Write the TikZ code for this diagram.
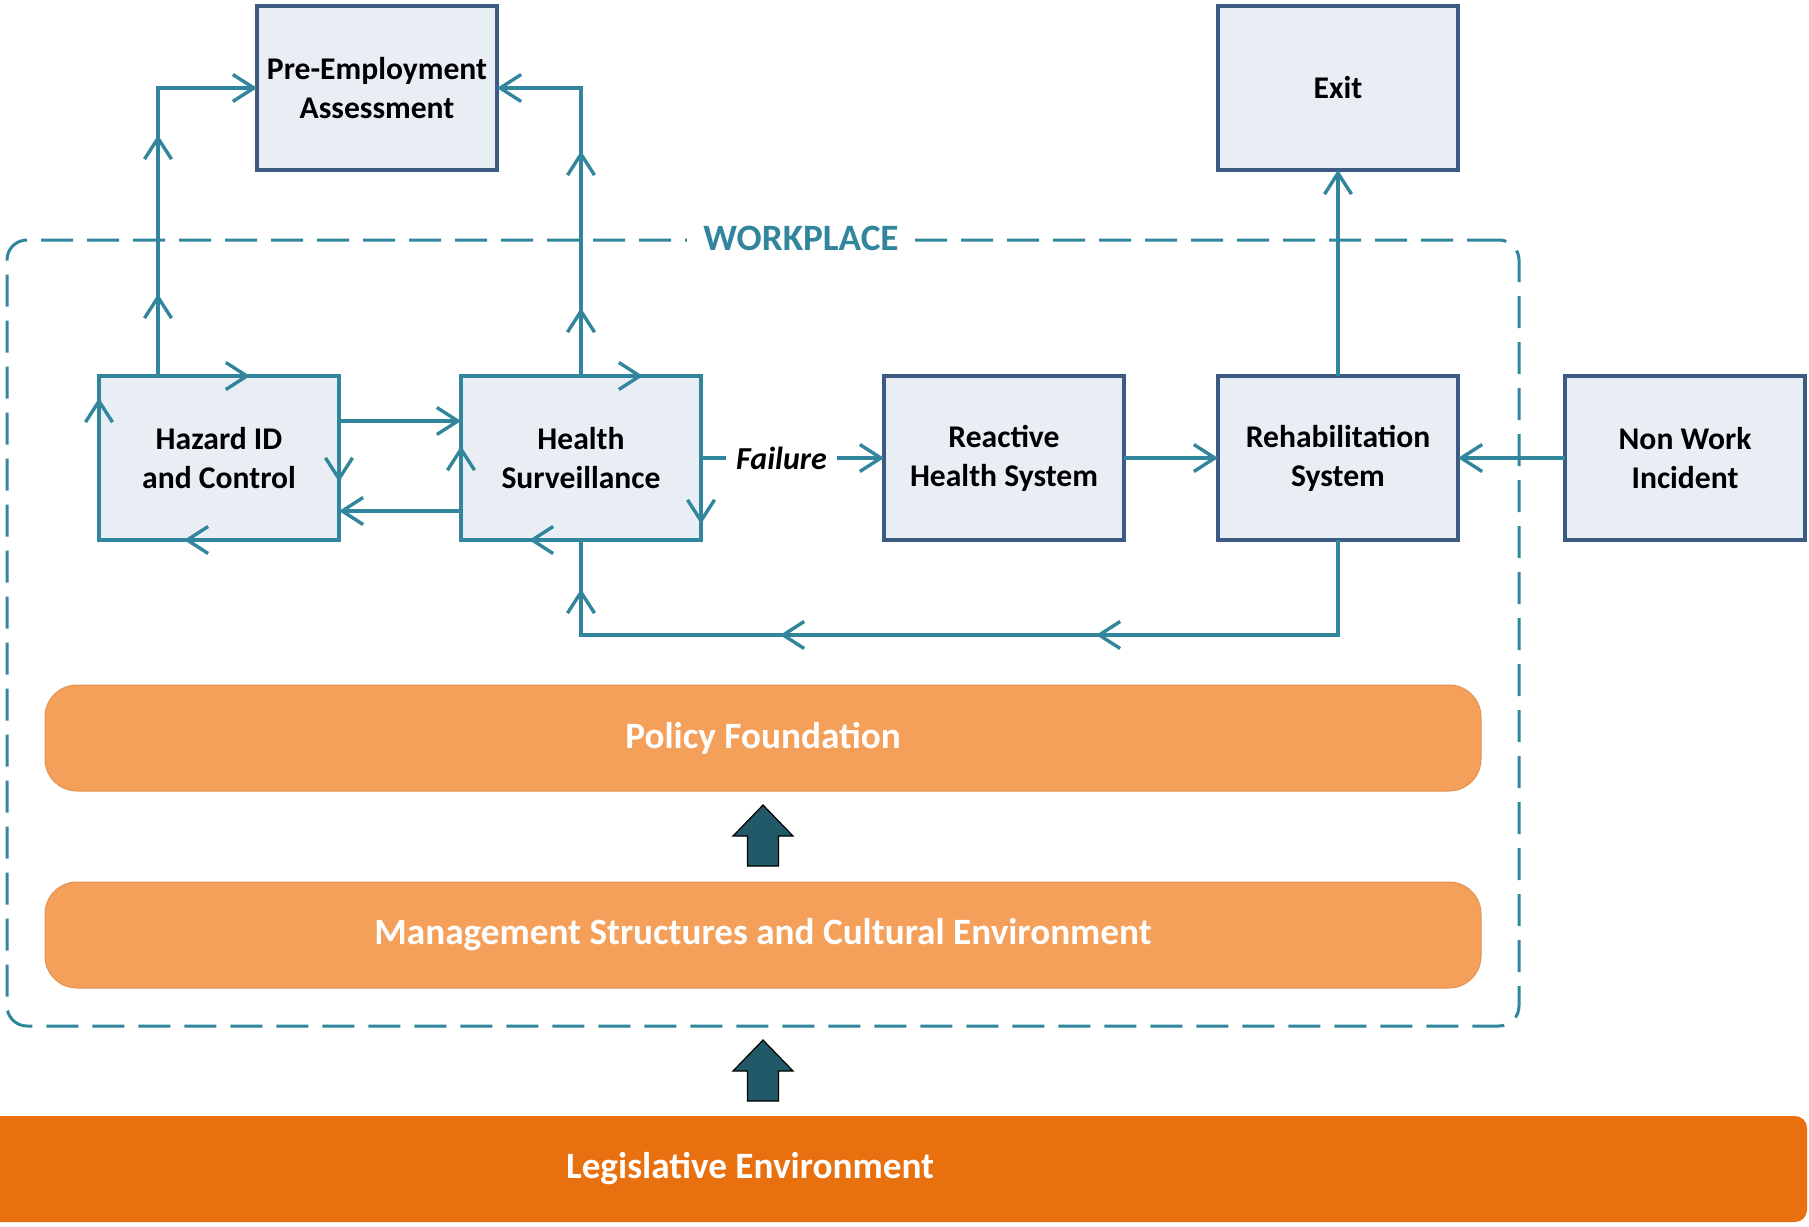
\documentclass[tikz,border=0pt]{standalone}
\usepackage{fontspec}
\setmainfont{Carlito}
\usepackage{tikz}
\usetikzlibrary{positioning,arrows.meta,decorations.markings}
\usepackage{xcolor}

\definecolor{flowline}{HTML}{31859C}
\definecolor{boxfill}{HTML}{E9EEF5}
\definecolor{boxedge}{HTML}{3C5A82}
\definecolor{layerfill}{HTML}{F5A05A}
\definecolor{groundfill}{HTML}{E8700E}
\definecolor{liftfill}{HTML}{215968}

\begin{document}
\begin{tikzpicture}[x=0.5pt, y=-0.5pt,
      stage/.style={draw=boxedge, fill=boxfill, line width=1.6pt, outer sep=0pt,
                    minimum width=120pt, minimum height=82pt, align=center,
                    font=\fontsize{15.8}{19.5}\selectfont\bfseries},
      loopstage/.style={stage, draw=flowline},
      flow/.style={flowline, line width=1.7pt},
      tipat/.style={postaction={decorate, decoration={markings,
                    mark=at position #1 with {\arrow{>}}}}},
      layer/.style={fill=layerfill, draw=layerfill!92!black, line width=0.5pt,
                    rounded corners=16pt, minimum width=718pt, minimum height=53pt,
                    text=white, font=\fontsize{18.6}{22}\selectfont\bfseries},
      uparrow/.pic={\draw[fill=liftfill, draw=black, line width=0.6pt]
                    (0,0) -- (30,31) -- (15.5,31) -- (15.5,61) -- (-15.5,61)
                    -- (-15.5,31) -- (-30,31) -- cycle;},
      >={Straight Barb[length=10.5pt, width=13.5pt]}]
    \useasboundingbox (0,0) rectangle (1809,1226);

    % workplace boundary
    \node[draw=flowline, line width=1.5pt, dash pattern=on 16pt off 7pt,
          rounded corners=10pt, minimum width=756pt, minimum height=393pt] (wp) at (763,633) {};
    \node[fill=white, text=flowline, inner xsep=8pt, inner ysep=2pt,
          font=\fontsize{18.6}{22}\selectfont\bfseries] (wptitle) at ([xshift=19pt]wp.north) {WORKPLACE};

    \node[stage] (pre) at (377,88) {Pre-Employment\\Assessment};
    \node[stage] (exit) at (1338,88) {Exit};
    \node[loopstage] (haz) at (219,458) {Hazard ID\\and Control};
    \node[loopstage] (hs) at (581,458) {Health\\Surveillance};
    \node[stage] (react) at (1004,458) {Reactive\\Health System};
    \node[stage] (rehab) at (1338,458) {Rehabilitation\\System};
    \node[stage] (nwi) at (1685,458) {Non Work\\Incident};

    % cycles round the two loop boxes
    \path[flow, tipat=75.5pt, tipat=173pt, tipat=279.5pt, tipat=393pt]
      (haz.north west) -- (haz.north east) -- (haz.south east) -- (haz.south west) -- cycle;
    \path[flow, tipat=91pt, tipat=194pt, tipat=288pt, tipat=369pt]
      (hs.north west) -- (hs.north east) -- (hs.south east) -- (hs.south west) -- cycle;

    \draw[flow, ->] ([yshift=18.5pt]haz.east) -- ([yshift=18.5pt]hs.west);
    \draw[flow, ->] ([yshift=-26.5pt]hs.west) -- ([yshift=-26.5pt]haz.east);
    \draw[flow, ->, tipat=41pt, tipat=120.5pt] ([xshift=-30.5pt]haz.north) |- (pre.west);
    \draw[flow, ->, tipat=34pt, tipat=112.5pt] (hs.north) |- (pre.east);
    \draw[flow, ->] (hs) -- node[pos=0.44, fill=white, text=black, inner xsep=5pt,
      font=\fontsize{16}{19}\selectfont\bfseries\itshape] (fail) {Failure} (react);
    \draw[flow, ->] (react) -- (rehab);
    \draw[flow, ->] (nwi) -- (rehab);
    \draw[flow, ->] (rehab) -- (exit);
    \draw[flow, tipat=168.5pt, tipat=326.5pt, tipat=449pt]
      (rehab.south) -- ++(0,95) coordinate (back) -| (hs.south);

    % foundation layers
    \node[layer] (pol) at (763,738) {Policy Foundation};
    \node[layer] (mgmt) at (763,935) {Management Structures and Cultural Environment};
    \node[fill=groundfill, rounded corners=6pt, minimum width=913.5pt,
          minimum height=53pt] (leg) at (893.5,1169) {};
    \node[text=white, font=\fontsize{18.6}{22}\selectfont\bfseries] (legtext) at (750,1169)
      {Legislative Environment};
    \pic at (763,805) {uparrow};
    \pic at (763,1040) {uparrow};
  \end{tikzpicture}
\end{document}
